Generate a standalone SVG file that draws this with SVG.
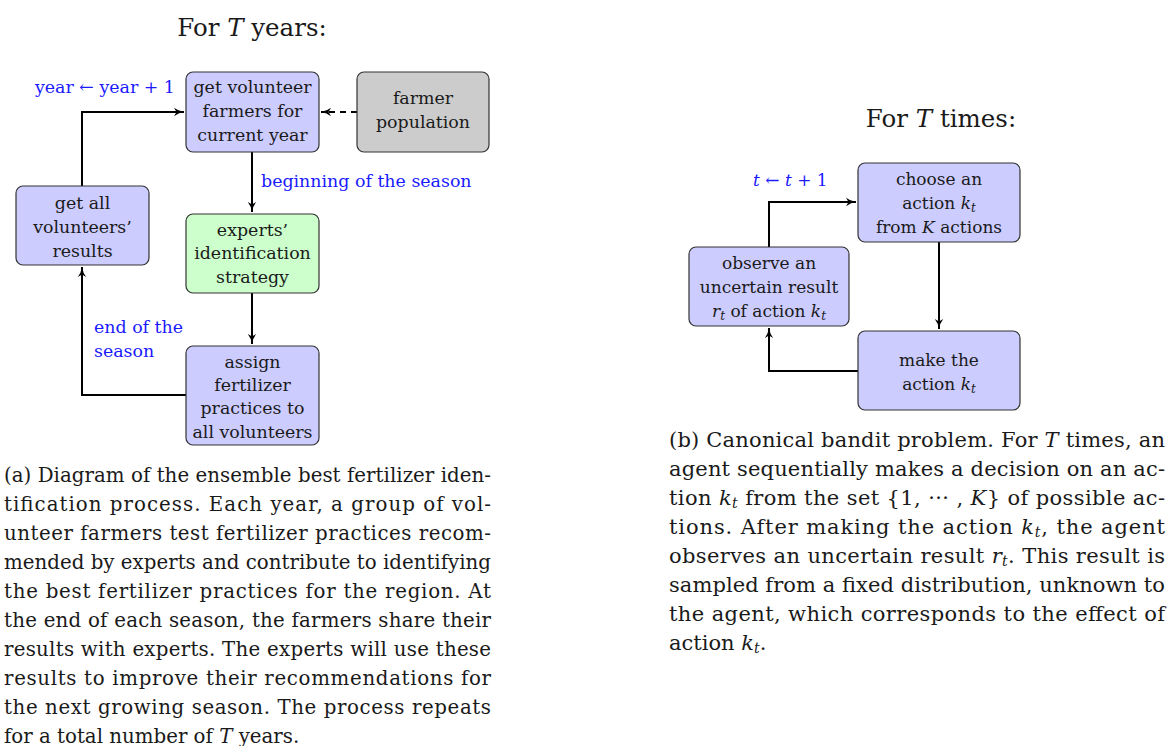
<svg xmlns="http://www.w3.org/2000/svg" width="1172" height="746" viewBox="0 0 1172 746">
<style>
text{font-family:"DejaVu Serif","Liberation Serif",serif;fill:#1a1a1a}
.nt{font-size:17.4px;text-anchor:middle}
.nr{font-size:17px;text-anchor:middle}
.ttl{font-size:24.5px;text-anchor:middle}
.lbl{font-size:17.4px;fill:#1a1aff}
.cap{font-size:19.8px}
.capb{font-size:21px}
.m{font-style:italic}
.box{stroke:#333;stroke-width:1.2}
.blue{fill:#ccccff}
.green{fill:#ccffcc}
.gray{fill:#cccccc}
.con{fill:none;stroke:#000;stroke-width:2}
.dash{stroke-dasharray:6,5}
</style>
<defs>
<marker id="ah" markerUnits="userSpaceOnUse" markerWidth="12" markerHeight="10" refX="10" refY="5" orient="auto">
<path d="M0,0.8 Q4,4 10,5 Q4,6 0,9.2 L2.5,5 Z" fill="#000"/>
</marker>
</defs>
<rect width="1172" height="746" fill="#fff"/>

<text class="ttl" x="252" y="36">For <tspan class="m">T</tspan> years:</text>
<text class="ttl" x="941" y="127">For <tspan class="m">T</tspan> times:</text>

<g id="connectors">
<path class="con" d="M82,186 V112 H184" marker-end="url(#ah)"/>
<path class="con dash" d="M357,112 H321" marker-end="url(#ah)"/>
<path class="con" d="M252,152 V212" marker-end="url(#ah)"/>
<path class="con" d="M252,293 V344" marker-end="url(#ah)"/>
<path class="con" d="M186,395 H82 V267" marker-end="url(#ah)"/>
<path class="con" d="M769,247 V202 H856" marker-end="url(#ah)"/>
<path class="con" d="M939,242 V329" marker-end="url(#ah)"/>
<path class="con" d="M858,371 H769 V328" marker-end="url(#ah)"/>
</g>

<g id="labels">
<text class="lbl" x="35" y="93">year ← year + 1</text>
<text class="lbl" x="261" y="187">beginning of the season</text>
<text class="lbl" x="94" y="333">end of the</text>
<text class="lbl" x="94" y="357">season</text>
<text class="lbl" x="753" y="186" style="font-size:17px"><tspan class="m">t</tspan> ← <tspan class="m">t</tspan> + 1</text>
</g>

<g id="node-current">
<rect class="box blue" x="186" y="72" width="133" height="80" rx="7"/>
<text class="nt" x="252.5" y="93">get volunteer</text>
<text class="nt" x="252.5" y="117">farmers for</text>
<text class="nt" x="252.5" y="141">current year</text>
</g>
<g id="node-population">
<rect class="box gray" x="357" y="72" width="132" height="80" rx="7"/>
<text class="nt" x="423" y="104">farmer</text>
<text class="nt" x="423" y="128">population</text>
</g>
<g id="node-results">
<rect class="box blue" x="16" y="186" width="133" height="79" rx="7"/>
<text class="nt" x="82.5" y="209">get all</text>
<text class="nt" x="82.5" y="233">volunteers’</text>
<text class="nt" x="82.5" y="257">results</text>
</g>
<g id="node-experts">
<rect class="box green" x="186" y="214" width="133" height="79" rx="7"/>
<text class="nt" x="252.5" y="236">experts’</text>
<text class="nt" x="252.5" y="259">identification</text>
<text class="nt" x="252.5" y="283">strategy</text>
</g>
<g id="node-assign">
<rect class="box blue" x="186" y="346" width="133" height="99" rx="7"/>
<text class="nt" x="252.5" y="368">assign</text>
<text class="nt" x="252.5" y="391">fertilizer</text>
<text class="nt" x="252.5" y="414">practices to</text>
<text class="nt" x="252.5" y="438">all volunteers</text>
</g>

<g id="node-choose">
<rect class="box blue" x="858" y="163" width="162" height="79" rx="7"/>
<text class="nr" x="939" y="185">choose an</text>
<text class="nr" x="939" y="209">action <tspan class="m">k</tspan><tspan class="m" font-size="12" dy="3">t</tspan></text>
<text class="nr" x="939" y="233">from <tspan class="m">K</tspan> actions</text>
</g>
<g id="node-observe">
<rect class="box blue" x="689" y="247" width="160" height="79" rx="7"/>
<text class="nr" x="769" y="269">observe an</text>
<text class="nr" x="769" y="293">uncertain result</text>
<text class="nr" x="769" y="317"><tspan class="m">r</tspan><tspan class="m" font-size="12" dy="3">t</tspan><tspan dy="-3"> of action </tspan><tspan class="m">k</tspan><tspan class="m" font-size="12" dy="3">t</tspan></text>
</g>
<g id="node-make">
<rect class="box blue" x="858" y="331" width="162" height="79" rx="7"/>
<text class="nr" x="939" y="366">make the</text>
<text class="nr" x="939" y="390">action <tspan class="m">k</tspan><tspan class="m" font-size="12" dy="3">t</tspan></text>
</g>

<g id="caption-a" class="cap">
<text x="4" y="482" textLength="487" lengthAdjust="spacing">(a) Diagram of the ensemble best fertilizer iden-</text>
<text x="4" y="511" textLength="487" lengthAdjust="spacing">tification process.  Each year, a group of vol-</text>
<text x="4" y="540" textLength="487" lengthAdjust="spacing">unteer farmers test fertilizer practices recom-</text>
<text x="4" y="569" textLength="487" lengthAdjust="spacing">mended by experts and contribute to identifying</text>
<text x="4" y="598" textLength="487" lengthAdjust="spacing">the best fertilizer practices for the region.  At</text>
<text x="4" y="627" textLength="487" lengthAdjust="spacing">the end of each season, the farmers share their</text>
<text x="4" y="656" textLength="487" lengthAdjust="spacing">results with experts. The experts will use these</text>
<text x="4" y="685" textLength="487" lengthAdjust="spacing">results to improve their recommendations for</text>
<text x="4" y="714" textLength="487" lengthAdjust="spacing">the next growing season. The process repeats</text>
<text x="4" y="743">for a total number of <tspan class="m">T</tspan> years.</text>
</g>

<g id="caption-b" class="capb">
<text x="669" y="447" textLength="496" lengthAdjust="spacing">(b) Canonical bandit problem. For <tspan class="m">T</tspan> times, an</text>
<text x="669" y="476" textLength="496" lengthAdjust="spacing">agent sequentially makes a decision on an ac-</text>
<text x="669" y="505" textLength="496" lengthAdjust="spacing">tion <tspan class="m">k</tspan><tspan class="m" font-size="14" dy="3">t</tspan><tspan dy="-3"> from the set {1, ··· , </tspan><tspan class="m">K</tspan>} of possible ac-</text>
<text x="669" y="534" textLength="496" lengthAdjust="spacing">tions.  After making the action <tspan class="m">k</tspan><tspan class="m" font-size="14" dy="3">t</tspan><tspan dy="-3">, the agent</tspan></text>
<text x="669" y="563" textLength="496" lengthAdjust="spacing">observes an uncertain result <tspan class="m">r</tspan><tspan class="m" font-size="14" dy="3">t</tspan><tspan dy="-3">.  This result is</tspan></text>
<text x="669" y="592" textLength="496" lengthAdjust="spacing">sampled from a fixed distribution, unknown to</text>
<text x="669" y="621" textLength="496" lengthAdjust="spacing">the agent, which corresponds to the effect of</text>
<text x="669" y="650">action <tspan class="m">k</tspan><tspan class="m" font-size="14" dy="3">t</tspan><tspan dy="-3">.</tspan></text>
</g>
</svg>
